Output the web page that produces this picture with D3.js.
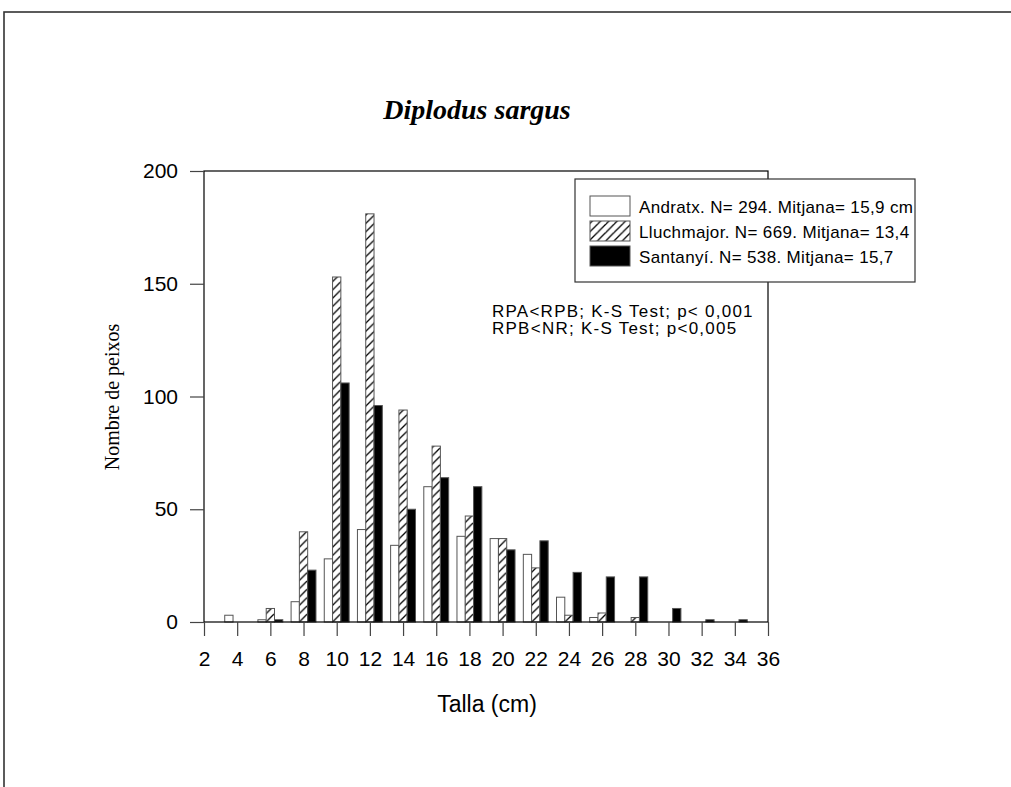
<!DOCTYPE html>
<html>
<head>
<meta charset="utf-8">
<script src="https://cdn.jsdelivr.net/npm/d3@7"></script>
<style>
body { margin: 0; background: #fff; }
svg { display: block; }
</style>
</head>
<body>
<script>
// talla (cm) classes
var sizes = [4, 6, 8, 10, 12, 14, 16, 18, 20, 22, 24, 26, 28, 30, 32, 34];
var andratx    = [3, 1, 9, 28, 41, 34, 60, 38, 37, 30, 11, 2, 0, 0, 0, 0];
var lluchmajor = [0, 6, 40, 153, 181, 94, 78, 47, 37, 24, 3, 4, 2, 0, 0, 0];
var santanyi   = [0, 1, 23, 106, 96, 50, 64, 60, 32, 36, 22, 20, 20, 6, 1, 1];
var xTicks = [2, 4, 6, 8, 10, 12, 14, 16, 18, 20, 22, 24, 26, 28, 30, 32, 34, 36];
var yTicks = [0, 50, 100, 150, 200];
var legendLabels = [
    "Andratx. N= 294. Mitjana= 15,9 cm",
    "Lluchmajor. N= 669. Mitjana= 13,4",
    "Santanyí. N= 538. Mitjana= 15,7"
];
var statLines = ["RPA<RPB; K-S Test; p< 0,001", "RPB<NR; K-S Test; p<0,005"];

var sans = "'Liberation Sans', Arial, sans-serif";
var serif = "'Liberation Serif', 'Times New Roman', serif";

var svg = d3.select("body")
            .append("svg")
            .attr("width", 1011)
            .attr("height", 787);

var defs = svg.append("defs");
var pat = defs.append("pattern")
    .attr("id", "hatch")
    .attr("patternUnits", "userSpaceOnUse")
    .attr("width", 8.3)
    .attr("height", 8.3);
pat.append("rect").attr("width", 8.3).attr("height", 8.3).attr("fill", "#fff");
pat.append("path")
    .attr("d", "M-2,10.3 L10.3,-2 M-4,4 L4,-4 M4.3,12.6 L12.6,4.3")
    .attr("stroke", "#000")
    .attr("stroke-width", 1.3);

// outer frame
svg.append("rect")
    .attr("x", 4).attr("y", 12)
    .attr("width", 1100).attr("height", 900)
    .attr("fill", "none")
    .attr("stroke", "#333")
    .attr("stroke-width", 1.6);

var x = d3.scaleLinear().domain([2, 36]).range([204, 768]);
var y = d3.scaleLinear().domain([0, 200]).range([622, 171]);
var bw = x(2.5) - x(2);

var series = [
    {name: "a", values: andratx, off: -0.5, fill: "#fff"},
    {name: "l", values: lluchmajor, off: 0, fill: "url(#hatch)"},
    {name: "s", values: santanyi, off: 0.5, fill: "#000"}
];

series.forEach(function(s){
    var rows = sizes.map(function(d, i){ return {size: d, v: s.values[i]}; })
                    .filter(function(d){ return d.v > 0; });
    svg.append("g").selectAll("rect")
        .data(rows)
        .enter()
        .append("rect")
        .attr("x", function(d){ return x(d.size + s.off) - bw / 2; })
        .attr("y", function(d){ return y(d.v); })
        .attr("width", bw)
        .attr("height", function(d){ return y(0) - y(d.v); })
        .attr("fill", s.fill)
        .attr("stroke", "#555")
        .attr("stroke-width", 1);
});

// plot box
svg.append("rect")
    .attr("x", x(2)).attr("y", y(200))
    .attr("width", x(36) - x(2)).attr("height", y(0) - y(200))
    .attr("fill", "none")
    .attr("stroke", "#000")
    .attr("stroke-width", 1.2);

var yAxis = svg.append("g")
    .attr("transform", "translate(" + x(2) + ",0)")
    .call(d3.axisLeft(y).tickValues(yTicks).tickSize(14).tickPadding(12).tickSizeOuter(0));
var xAxis = svg.append("g")
    .attr("transform", "translate(0," + y(0) + ")")
    .call(d3.axisBottom(x).tickValues(xTicks).tickSize(14).tickPadding(15).tickSizeOuter(0));

[yAxis, xAxis].forEach(function(g){
    g.select(".domain").remove();
    g.selectAll(".tick line").attr("stroke", "#444").attr("stroke-width", 1.2);
    g.selectAll(".tick text")
        .attr("fill", "#000")
        .style("font-family", sans)
        .style("font-size", "21px");
});

// title
svg.append("text")
    .attr("x", 477).attr("y", 119)
    .attr("text-anchor", "middle")
    .style("font-family", serif)
    .style("font-size", "28px")
    .style("font-weight", "bold")
    .style("font-style", "italic")
    .text("Diplodus sargus");

svg.append("text")
    .attr("transform", "translate(119,397) rotate(-90)")
    .attr("text-anchor", "middle")
    .style("font-family", serif)
    .style("font-size", "20px")
    .text("Nombre de peixos");

svg.append("text")
    .attr("x", 487).attr("y", 712)
    .attr("text-anchor", "middle")
    .style("font-family", sans)
    .style("font-size", "23px")
    .text("Talla (cm)");

// stats text
svg.append("g").selectAll("text")
    .data(statLines)
    .enter()
    .append("text")
    .attr("x", 492)
    .attr("y", function(d, i){ return 317 + i * 17; })
    .style("font-family", sans)
    .style("font-size", "17px")
    .style("letter-spacing", "1.25px")
    .text(function(d){ return d; });

// legend
var leg = svg.append("g");
leg.append("rect")
    .attr("x", 575).attr("y", 179)
    .attr("width", 340).attr("height", 103)
    .attr("fill", "#fff")
    .attr("stroke", "#333")
    .attr("stroke-width", 1.2);
var legFill = ["#fff", "url(#hatch)", "#000"];
leg.selectAll(".sw")
    .data(legendLabels)
    .enter()
    .append("rect")
    .attr("class", "sw")
    .attr("x", 590)
    .attr("y", function(d, i){ return 196 + i * 25; })
    .attr("width", 40).attr("height", 20)
    .attr("fill", function(d, i){ return legFill[i]; })
    .attr("stroke", "#555");
leg.selectAll("text")
    .data(legendLabels)
    .enter()
    .append("text")
    .attr("x", 639)
    .attr("y", function(d, i){ return 213 + i * 25; })
    .style("font-family", sans)
    .style("font-size", "17px")
    .style("letter-spacing", "0.35px")
    .text(function(d){ return d; });
</script>
</body>
</html>
